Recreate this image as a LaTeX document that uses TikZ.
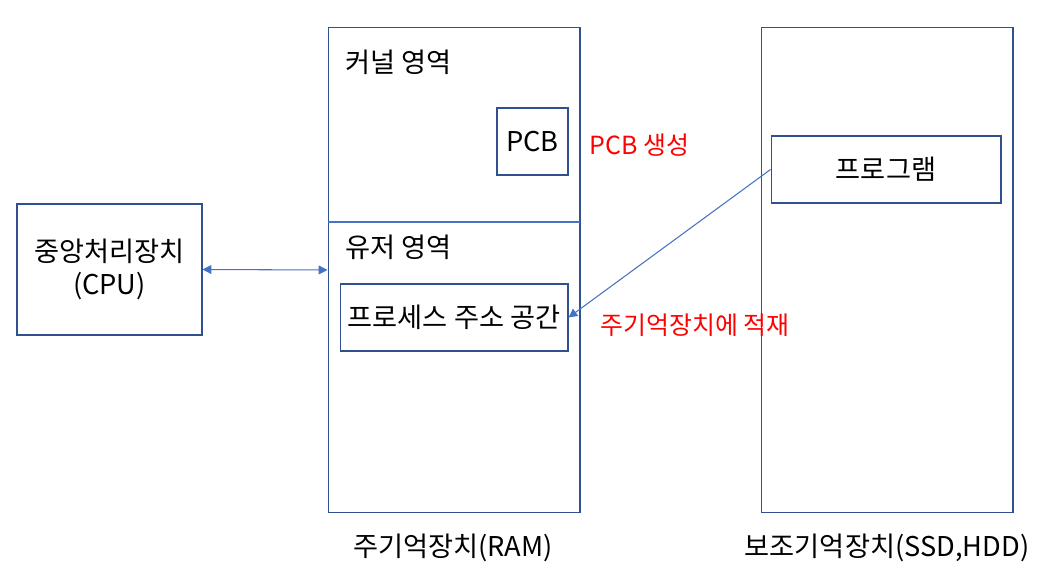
\documentclass[tikz,border=0pt]{standalone}
\usepackage{fontspec}
\setmainfont{Noto Sans CJK KR}
\usepackage{tikz}
\usetikzlibrary{arrows.meta,positioning}
\definecolor{boxline}{HTML}{2F528F}
\definecolor{linkline}{HTML}{4472C4}
\definecolor{note}{HTML}{FF0000}

\begin{document}
\begin{tikzpicture}[
  x=0.02cm, y=-0.02cm,
  font=\fontsize{15.5}{18.5}\selectfont,
  unit/.style={draw=boxline, line width=0.6pt, inner sep=0pt, align=center},
  inbox/.style={draw=boxline, line width=0.6pt, minimum height=1.34cm, inner sep=0pt},
  area/.style={anchor=west, inner sep=0pt},
  remark/.style={anchor=west, inner sep=0pt, text=note, font=\fontsize{14.2}{17}\selectfont},
  link/.style={draw=linkline, line width=0.6pt},
  >={Triangle[width=5pt,length=5pt]}]
  \useasboundingbox (0,0) rectangle (1041,577);
  % boxes
  \node[unit, minimum width=3.7cm, minimum height=2.62cm] (cpu) at (109.5,269.5) {중앙처리장치\\(CPU)};
  \node[unit, minimum width=5.04cm, minimum height=9.72cm] (ram) at (454,270) {};
  \node[unit, minimum width=5.04cm, minimum height=9.72cm] (disk) at (887,270) {};
  \draw[link] (328,222) coordinate (split) -- (580,222);
  \node[area] (kernel) at (345,62) {커널 영역};
  \node[area] (user) at (345,247) {유저 영역};
  \node[inbox, minimum width=1.42cm] (pcb) at (532.5,141.5) {PCB};
  \node[inbox, minimum width=4.56cm] (space) at (454,317.5) {프로세스 주소 공간};
  \node[inbox, minimum width=4.6cm] (prog) at (886,169.5) {프로그램};
  % captions
  \node (ramlbl) at (453,548) {주기억장치(RAM)};
  \node (disklbl) at (887,548) {보조기억장치(SSD,HDD)};
  \node[remark] (mkpcb) at (589,145) {PCB 생성};
  \node[remark] (load) at (600,325) {주기억장치에 적재};
  % arrows
  \draw[link, <->] (cpu.east) -- (ram.west);
  \draw[link, ->] (prog.west) -- (space.east);
\end{tikzpicture}
\end{document}
